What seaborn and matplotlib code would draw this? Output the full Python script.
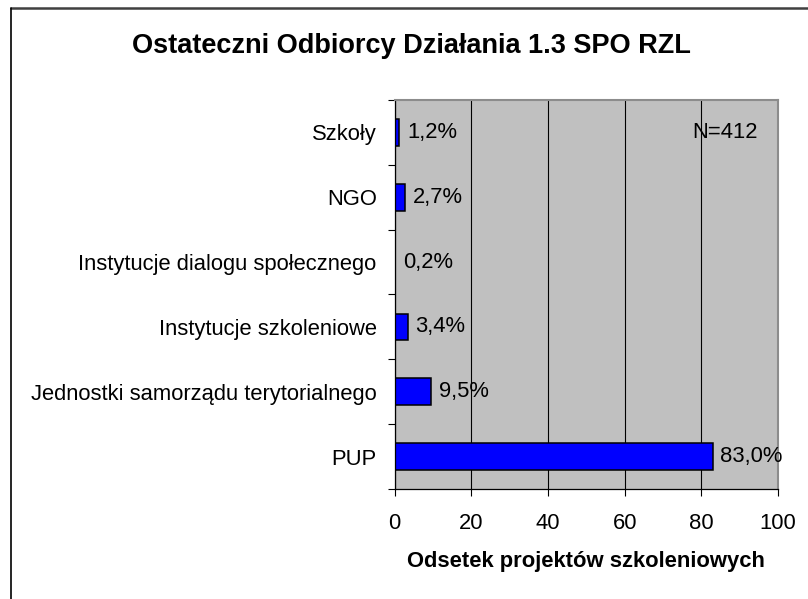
import numpy as np
import matplotlib
matplotlib.use('Agg')
import matplotlib.pyplot as plt
from matplotlib.lines import Line2D
import seaborn as sns

# data
categories = ['Szkoły', 'NGO', 'Instytucje dialogu społecznego', 'Instytucje szkoleniowe',
              'Jednostki samorządu terytorialnego', 'PUP']
values = [1.2, 2.7, 0.2, 3.4, 9.5, 83.0]
x_ticks = [0, 20, 40, 60, 80, 100]
n_label = 'N=412'

sns.set_theme(style='white')
plt.rcParams['font.family'] = ['Liberation Sans', 'DejaVu Sans']

W, H = 808, 599
fig = plt.figure(figsize=(W / 100, H / 100), dpi=100)
ax = fig.add_axes([394.7 / W, 1 - 489 / H, (778 - 394.7) / W, (489 - 100) / H])
ax.set_facecolor('#C0C0C0')

sns.barplot(x=values, y=categories, orient='h', color='#0000FF', saturation=1,
            edgecolor='black', linewidth=1.1, width=0.41, ax=ax)

ax.set_xlim(0, 100)
ax.set_ylim(len(categories) - 0.5, -0.5)
ax.set_xticks(x_ticks)
ax.set_xticklabels([str(t) for t in x_ticks], fontsize=15.8, color='black')
ax.set_yticks(range(len(categories)))
ax.set_yticklabels(categories, fontsize=15.8, color='black')
ax.set_yticks(np.arange(-0.5, len(categories), 1), minor=True)

ax.tick_params(axis='x', which='major', bottom=True, direction='out', length=5,
               width=0.8, color='black', pad=12.5)
ax.tick_params(axis='y', which='major', left=False, length=0, pad=13)
ax.tick_params(axis='y', which='minor', left=True, direction='out', length=5,
               width=0.8, color='black')

ax.grid(axis='x', color='black', linewidth=0.8)
ax.grid(axis='y', visible=False)
ax.set_axisbelow(True)

for side in ['left', 'bottom']:
    ax.spines[side].set_color('black')
    ax.spines[side].set_linewidth(0.9)
for side in ['top', 'right']:
    ax.spines[side].set_color('#8C8C8C')
    ax.spines[side].set_linewidth(1.5)

labels = [f'{v:.1f}'.replace('.', ',') + '%' for v in values]
ax.bar_label(ax.containers[0], labels=labels, padding=5.5, fontsize=15.8, color='black')

ax.text(77.5, 0, n_label, fontsize=15.8, ha='left', va='center', color='black')

ax.set_xlabel('Odsetek projektów szkoleniowych', fontsize=15.8, fontweight='bold',
              labelpad=12, color='black')
ax.set_ylabel('')

fig.text(411 / W, 1 - 46 / H, 'Ostateczni Odbiorcy Działania 1.3 SPO RZL',
         fontsize=19.5, fontweight='bold', ha='center', va='center', color='black')

# outer chart border (only top and left visible in the reference)
fig.add_artist(Line2D([11 / W, 1], [1 - 7.5 / H, 1 - 7.5 / H], transform=fig.transFigure,
                      color='#404040', linewidth=1.8))
fig.add_artist(Line2D([11 / W, 11 / W], [0, 1 - 7.5 / H], transform=fig.transFigure,
                      color='black', linewidth=1.2))

fig.savefig('out.png', dpi=100)
